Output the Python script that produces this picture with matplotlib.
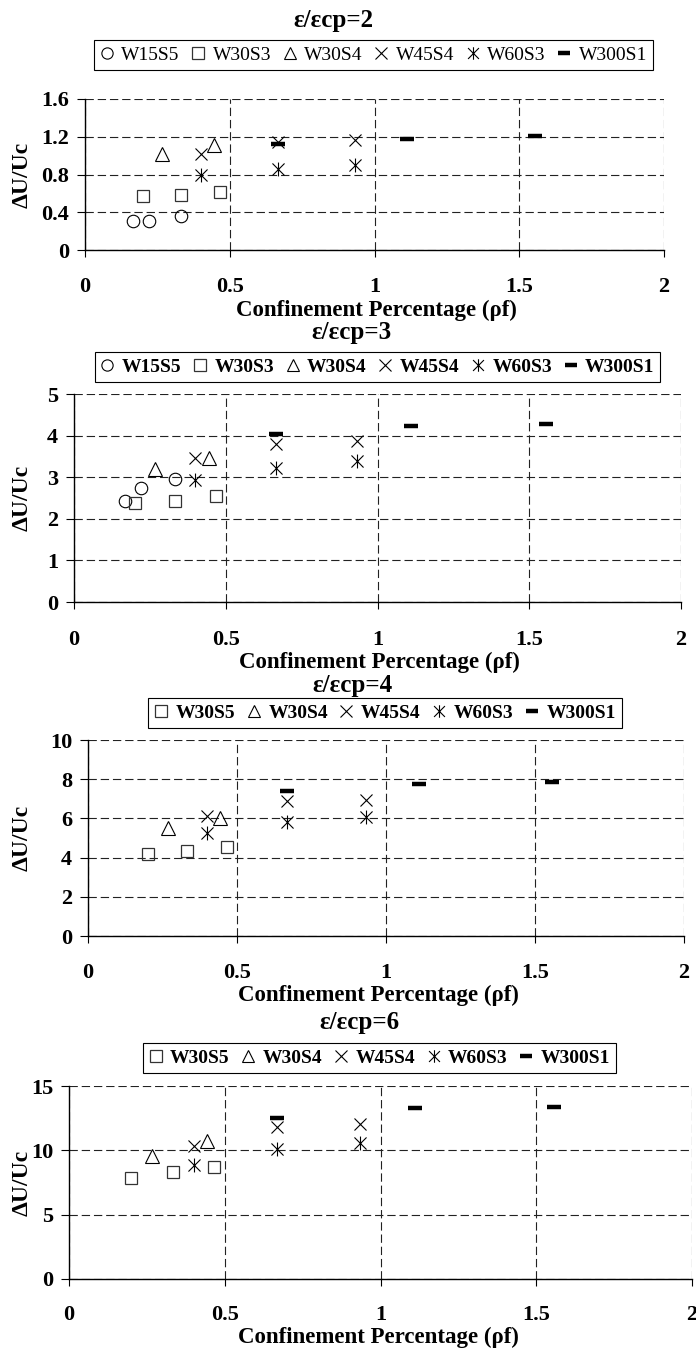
import matplotlib
matplotlib.use("Agg")
import matplotlib.pyplot as plt
from matplotlib.path import Path
from matplotlib import font_manager as fm
from matplotlib.font_manager import FontProperties

# ---------------- data ----------------
x_W15S5 = [0.167, 0.222, 0.333]
x_W30S3 = [0.2, 0.333, 0.467]
x_W30S4 = [0.267, 0.444]
x_W45S4 = [0.4, 0.667, 0.933]
x_W60S3 = [0.4, 0.667, 0.933]
x_W300S1 = [0.667, 1.111, 1.556]

# eps/eps_cp = 2
p1_W15S5 = [0.31, 0.31, 0.357]
p1_W30S3 = [0.574, 0.588, 0.613]
p1_W30S4 = [1.015, 1.11]
p1_W45S4 = [1.015, 1.14, 1.17]
p1_W60S3 = [0.795, 0.854, 0.90]
p1_W300S1 = [1.12, 1.173, 1.204]

# eps/eps_cp = 3
p2_W15S5 = [2.42, 2.73, 2.96]
p2_W30S3 = [2.37, 2.42, 2.56]
p2_W30S4 = [3.19, 3.47]
p2_W45S4 = [3.47, 3.81, 3.86]
p2_W60S3 = [2.94, 3.23, 3.39]
p2_W300S1 = [4.03, 4.23, 4.28]

# eps/eps_cp = 4
p3_W30S5 = [4.17, 4.34, 4.56]
p3_W30S4 = [5.49, 6.0]
p3_W45S4 = [6.14, 6.9, 6.95]
p3_W60S3 = [5.28, 5.83, 6.06]
p3_W300S1 = [7.39, 7.77, 7.84]

# eps/eps_cp = 6
p4_W30S5 = [7.85, 8.32, 8.73]
p4_W30S4 = [9.56, 10.73]
p4_W45S4 = [10.36, 11.84, 12.07]
p4_W60S3 = [8.83, 10.08, 10.57]
p4_W300S1 = [12.49, 13.3, 13.4]

titles = ["ε/εcp=2", "ε/εcp=3", "ε/εcp=4", "ε/εcp=6"]
xticks = [0, 0.5, 1, 1.5, 2]
xticklabels = ["0", "0.5", "1", "1.5", "2"]
yticks_list = [[0, 0.4, 0.8, 1.2, 1.6], [0, 1, 2, 3, 4, 5],
               [0, 2, 4, 6, 8, 10], [0, 5, 10, 15]]
yticklabels_list = [["0", "0.4", "0.8", "1.2", "1.6"], ["0", "1", "2", "3", "4", "5"],
                    ["0", "2", "4", "6", "8", "10"], ["0", "5", "10", "15"]]
xlabel = "Confinement Percentage (ρf)"
ylabel = "ΔU/Uc"

# ---------------- styles ----------------
SERIF = "Liberation Serif"

aster = Path([(-1, -1), (1, 1), (-1, 1), (1, -1), (0, -1.15), (0, 1.15)],
             [Path.MOVETO, Path.LINETO, Path.MOVETO, Path.LINETO, Path.MOVETO, Path.LINETO])

style = {
    "circle": dict(marker="o", ms=9, mec="black", mew=0.8),
    "square": dict(marker="s", ms=9, mec="#333333", mew=0.9),
    "tri": dict(marker="^", ms=9.5, mec="black", mew=0.8),
    "x": dict(marker="x", ms=9, mec="black", mew=0.8),
    "ast": dict(marker=aster, ms=10, mec="black", mew=0.8),
    "dash": dict(marker="_", ms=10, mec="black", mew=3.2),
}

panels = [
    dict(box=(85, 99, 664, 250), ymax=1.6,
         series=[("W15S5", x_W15S5, p1_W15S5, "circle"), ("W30S3", x_W30S3, p1_W30S3, "square"),
                 ("W30S4", x_W30S4, p1_W30S4, "tri"), ("W45S4", x_W45S4, p1_W45S4, "x"),
                 ("W60S3", x_W60S3, p1_W60S3, "ast"), ("W300S1", x_W300S1, p1_W300S1, "dash")],
         bold_leg=False, leg=(373.5, 55), title=(333, 20), xl=(376, 310), xpad=14.4),
    dict(box=(74, 394, 681, 602), ymax=5,
         series=[("W15S5", x_W15S5, p2_W15S5, "circle"), ("W30S3", x_W30S3, p2_W30S3, "square"),
                 ("W30S4", x_W30S4, p2_W30S4, "tri"), ("W45S4", x_W45S4, p2_W45S4, "x"),
                 ("W60S3", x_W60S3, p2_W60S3, "ast"), ("W300S1", x_W300S1, p2_W300S1, "dash")],
         bold_leg=True, leg=(377.5, 367), title=(351, 333), xl=(379, 662), xpad=15.1),
    dict(box=(88, 740, 684, 936), ymax=10,
         series=[("W30S5", x_W30S3, p3_W30S5, "square"), ("W30S4", x_W30S4, p3_W30S4, "tri"),
                 ("W45S4", x_W45S4, p3_W45S4, "x"), ("W60S3", x_W60S3, p3_W60S3, "ast"),
                 ("W300S1", x_W300S1, p3_W300S1, "dash")],
         bold_leg=True, leg=(385, 713), title=(352, 685), xl=(378, 995), xpad=14.4),
    dict(box=(69, 1086, 692, 1279), ymax=15,
         series=[("W30S5", x_W30S3, p4_W30S5, "square"), ("W30S4", x_W30S4, p4_W30S4, "tri"),
                 ("W45S4", x_W45S4, p4_W45S4, "x"), ("W60S3", x_W60S3, p4_W60S3, "ast"),
                 ("W300S1", x_W300S1, p4_W300S1, "dash")],
         bold_leg=True, leg=(379.5, 1058), title=(359, 1022), xl=(378, 1337), xpad=14.0),
]

W, H = 696, 1349
fig = plt.figure(figsize=(W / 100, H / 100), dpi=100)


def fx(px):
    return px / W


def fy(py):
    return 1 - py / H


tick_fp = FontProperties(family=SERIF, weight="bold", size=16)
for i, p in enumerate(panels):
    l, t, r, b = p["box"]
    ax = fig.add_axes([fx(l), fy(b), (r - l) / W, (b - t) / H])
    for name, xs, ys, st in p["series"]:
        ax.plot(xs, ys, linestyle="none", mfc="none", label=name, clip_on=False,
                zorder=3, **style[st])
    ax.set_xlim(0, 2)
    ax.set_ylim(0, p["ymax"])
    ax.set_xticks(xticks)
    ax.set_xticklabels(xticklabels, fontproperties=tick_fp)
    ax.set_yticks(yticks_list[i])
    ax.set_yticklabels(yticklabels_list[i], fontproperties=tick_fp)
    ax.grid(True, linestyle=(0, (7.5, 3.5)), color="#222222", linewidth=0.8, zorder=0)
    ax.set_axisbelow(True)
    for s in ("top", "right"):
        ax.spines[s].set_visible(False)
    for s in ("left", "bottom"):
        ax.spines[s].set_linewidth(1.0)
        ax.spines[s].set_color("black")
        ax.spines[s].set_zorder(2.5)
    ax.tick_params(axis="x", direction="out", length=5, width=0.8, pad=p["xpad"])
    ax.tick_params(axis="y", direction="out", length=5.5, width=0.8, pad=6)

    leg_fp = FontProperties(family=SERIF, weight="bold" if p["bold_leg"] else "normal", size=14)
    leg = ax.legend(loc="center", bbox_to_anchor=(fx(p["leg"][0]), fy(p["leg"][1])),
                    bbox_transform=fig.transFigure, ncol=len(p["series"]), prop=leg_fp,
                    handlelength=0.7, handletextpad=0.4, columnspacing=0.6,
                    borderpad=0.3, frameon=True, fancybox=False, edgecolor="black",
                    framealpha=1, markerscale=0.9, borderaxespad=0)
    leg.get_frame().set_linewidth(0.8)

    fig.text(fx(p["title"][0]), fy(p["title"][1]), titles[i], ha="center", va="center",
             fontproperties=FontProperties(family=SERIF, weight="bold", size=18))
    fig.text(fx(p["xl"][0]), fy(p["xl"][1]), xlabel, ha="center", va="center",
             fontproperties=FontProperties(family=SERIF, weight="bold", size=16.5))
    fig.text(fx(22), fy((t + b) / 2), ylabel, rotation=90, ha="center", va="center",
             fontproperties=FontProperties(family=SERIF, weight="bold", size=17))

fig.savefig("out.png", dpi=100)
